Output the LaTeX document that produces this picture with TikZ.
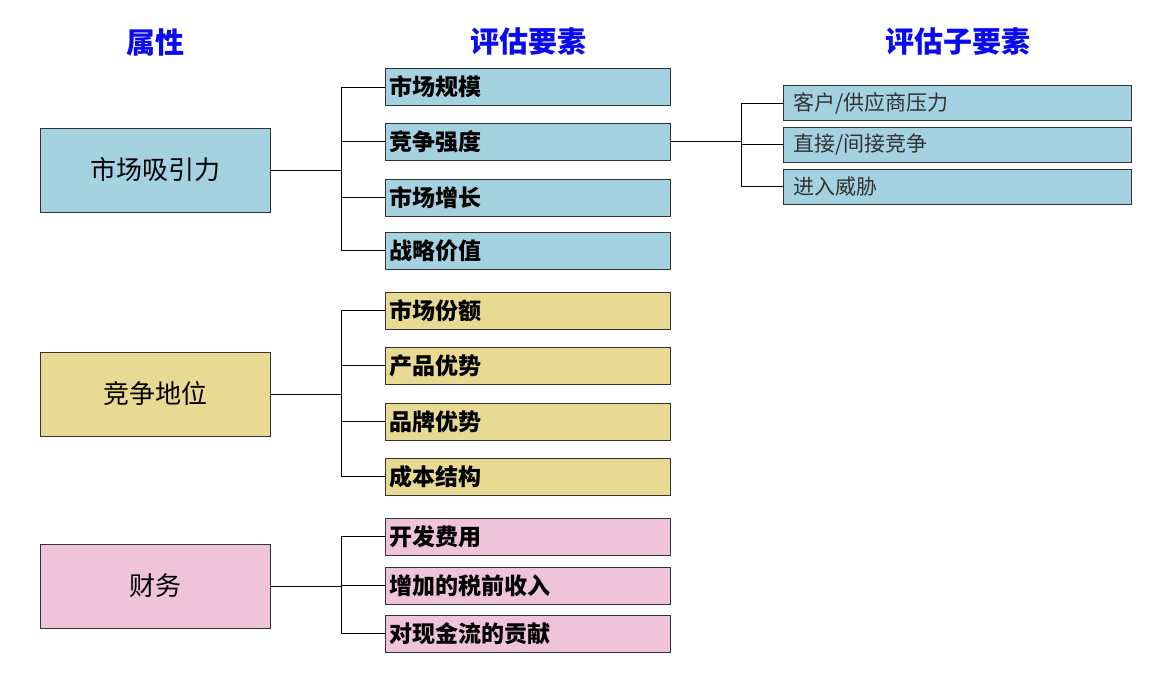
\documentclass[tikz,border=0pt]{standalone}
\usepackage{fontspec}
\setmainfont{Noto Sans CJK SC}
\newfontfamily\cjk{Noto Sans CJK SC}
\definecolor{cblue}{RGB}{165,210,225}
\definecolor{cyel}{RGB}{232,218,146}
\definecolor{cpink}{RGB}{239,196,216}
\definecolor{ctitle}{RGB}{10,10,240}
\definecolor{cgraytext}{RGB}{50,50,50}
\begin{document}
\begin{tikzpicture}[x=1pt,y=-1pt,
  bigbox/.style={draw=black!80,line width=0.9pt,minimum width=230pt,minimum height=84pt,inner sep=0pt,font=\fontsize{26}{28}\selectfont},
  midbox/.style={draw=black!80,line width=0.9pt,minimum width=285pt,minimum height=37pt,inner sep=0pt,anchor=west,text width=277pt,align=left,font=\fontsize{23}{25}\selectfont\bfseries},
  subbox/.style={draw=black!80,line width=0.9pt,minimum width=348pt,minimum height=35pt,inner sep=0pt,anchor=west,text width=328pt,align=left,text=cgraytext,font=\fontsize{21}{23}\selectfont},
  title/.style={text=ctitle,font=\fontsize{29}{31}\selectfont\bfseries},
  conn/.style={draw=black,line width=0.8pt}]
\useasboundingbox (0,0) rectangle (1169,674);
% titles
\node[title] (t1) at (155,42) {属性};
\node[title] (t2) at (528,42) {评估要素};
\node[title] (t3) at (958,42) {评估子要素};
% left boxes
\node[bigbox,fill=cblue] (a) at (155,170) {市场吸引力};
\node[bigbox,fill=cyel] (b) at (155,394) {竞争地位};
\node[bigbox,fill=cpink] (c) at (155,586) {财务};
% middle boxes
\node[midbox,fill=cblue] (a1) at (385,87) {市场规模};
\node[midbox,fill=cblue] (a2) at (385,141.5) {竞争强度};
\node[midbox,fill=cblue] (a3) at (385,197.5) {市场增长};
\node[midbox,fill=cblue] (a4) at (385,250.5) {战略价值};
\node[midbox,fill=cyel] (b1) at (385,310.5) {市场份额};
\node[midbox,fill=cyel] (b2) at (385,365.5) {产品优势};
\node[midbox,fill=cyel] (b3) at (385,421.5) {品牌优势};
\node[midbox,fill=cyel] (b4) at (385,476.5) {成本结构};
\node[midbox,fill=cpink] (c1) at (385,536.5) {开发费用};
\node[midbox,fill=cpink] (c2) at (385,585.5) {增加的税前收入};
\node[midbox,fill=cpink] (c3) at (385,633.5) {对现金流的贡献};
% sub boxes
\node[subbox,fill=cblue] (s1) at (783,103) {客户/供应商压力};
\node[subbox,fill=cblue] (s2) at (783,144.5) {直接/间接竞争};
\node[subbox,fill=cblue] (s3) at (783,186.5) {进入威胁};
% connectors
\coordinate (ja) at (341,0);
\coordinate (js) at (741,0);
\draw[conn] (a.east) -- (a.east -| ja);
\draw[conn] (a1.west -| ja) -- (a4.west -| ja);
\foreach \n in {a1,a2,a3,a4} \draw[conn] (\n.west -| ja) -- (\n.west);
\draw[conn] (b.east) -- (b.east -| ja);
\draw[conn] (b1.west -| ja) -- (b4.west -| ja);
\foreach \n in {b1,b2,b3,b4} \draw[conn] (\n.west -| ja) -- (\n.west);
\draw[conn] (c.east) -- (c.east -| ja);
\draw[conn] (c1.west -| ja) -- (c3.west -| ja);
\foreach \n in {c1,c2,c3} \draw[conn] (\n.west -| ja) -- (\n.west);
\draw[conn] (a2.east) -- (a2.east -| js);
\draw[conn] (s1.west -| js) -- (s3.west -| js);
\foreach \n in {s1,s2,s3} \draw[conn] (\n.west -| js) -- (\n.west);
\end{tikzpicture}
\end{document}
